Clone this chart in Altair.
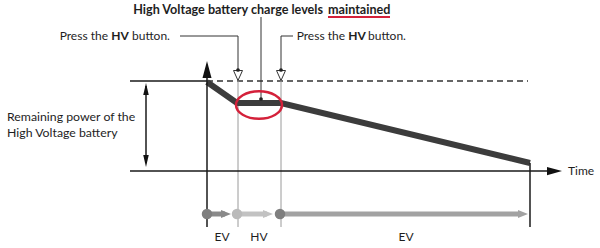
import altair as alt
import pandas as pd

# ---- data (pixel-space diagram coordinates) ----
curve_t = [207, 237, 281, 530]
curve_lvl = [82, 103, 103, 163]

black_x1 = [130, 207, 130, 530, 146]
black_y1 = [81, 70, 171, 163, 86]
black_x2 = [207, 207, 550, 530, 146]
black_y2 = [81, 227, 171, 227, 163]

call_x1 = [180, 238, 293, 281, 261]
call_y1 = [36, 36, 36, 36, 17]
call_x2 = [238, 238, 281, 281, 261]
call_y2 = [36, 70, 36, 70, 99]

gray_x = [238, 281]

phase_x1 = [207, 238, 281]
phase_x2 = [225, 267, 519]
phase_head = [226, 268, 523]
phase_dot = [207, 237, 280]
phase_col = ["#8a8a8a", "#c2c2c2", "#a2a2a2"]
dot_col = ["#7f7f7f", "#bababa", "#7f7f7f"]
phase_lbl = ["EV", "HV", "EV"]
phase_lbl_x = [222, 259, 406]

xs = alt.Scale(domain=[0, 600], range=[0, 600], nice=False, zero=False)
ys = alt.Scale(domain=[0, 248], range=[0, 248], nice=False, zero=False)

def X(f="x"):
    return alt.X(f"{f}:Q", scale=xs, axis=None)

def Y(f="y"):
    return alt.Y(f"{f}:Q", scale=ys, axis=None)

FONT = "Lato"

def rules(x1, y1, x2, y2, color, width, dash=None):
    df = pd.DataFrame({"x": x1, "y": y1, "x2": x2, "y2": y2})
    kw = dict(color=color, strokeWidth=width)
    if dash:
        kw["strokeDash"] = dash
    return alt.Chart(df).mark_rule(**kw).encode(
        x=X(), y=Y(), x2=alt.X2("x2:Q"), y2=alt.Y2("y2:Q"))

def symbols(xv, yv, shape, size, fill, stroke=None, sw=0, filled=True, colors=None):
    df = pd.DataFrame({"x": xv, "y": yv})
    kw = dict(shape=shape, size=size, filled=filled, opacity=1)
    if filled:
        kw["fill"] = fill
    if stroke:
        kw["stroke"] = stroke
        kw["strokeWidth"] = sw
    enc = dict(x=X(), y=Y())
    if colors is not None:
        df["c"] = colors
        enc["fill"] = alt.Fill("c:N", scale=None)
    return alt.Chart(df).mark_point(**kw).encode(**enc)

def texts(xv, yv, tv, align, size=12, weight="normal", color="#1e1e1e"):
    df = pd.DataFrame({"x": xv, "y": yv, "t": tv})
    return alt.Chart(df).mark_text(
        align=align, baseline="middle", font=FONT, fontSize=size,
        fontWeight=weight, color=color).encode(x=X(), y=Y(), text="t:N")

layers = []

# dashed reference line
layers.append(rules([207], [81], [528], [81], "#333333", 1.5, [6, 4]))
# gray phase verticals
layers.append(rules(gray_x, [80, 80], gray_x, [227, 227], "#9a9a9a", 1))
# charge curve
curve_df = pd.DataFrame({"x": curve_t, "y": curve_lvl, "o": range(len(curve_t))})
layers.append(alt.Chart(curve_df).mark_line(color="#3c3c3c", strokeWidth=6, strokeJoin="miter").encode(
    x=X(), y=Y(), order="o:Q"))
# black frame lines
layers.append(rules(black_x1, black_y1, black_x2, black_y2, "#1a1a1a", 1.5))
# callout lines
layers.append(rules(call_x1, call_y1, call_x2, call_y2, "#333333", 1))
# red underline
layers.append(rules([328], [17], [390], [17], "#d4213a", 2))

# arrow heads
layers.append(symbols([207], [69.5], "M0,-1L0.53,1L-0.53,1Z", 289, "#111"))
layers.append(symbols([554.5], [171], "M1,0L-1,-0.55L-1,0.55Z", 225, "#111"))
layers.append(symbols([146], [89], "M0,-1L0.46,1L-0.46,1Z", 144, "#111"))
layers.append(symbols([146], [161], "M0,1L0.46,-1L-0.46,-1Z", 144, "#111"))
# open triangles at HV presses
layers.append(symbols([238, 281], [75.5, 75.5], "M0,1L-0.9,-1L0.9,-1Z", 100, "white",
                      stroke="#333", sw=1))
# small dots
layers.append(symbols([238, 281, 261], [70, 70, 99], "circle", 14, "#222"))

# red ellipse
layers.append(symbols([259], [105], "M-1,0A1,0.6,0,1,1,1,0A1,0.6,0,1,1,-1,0Z", 2116,
                      None, stroke="#d4213a", sw=2.5, filled=False))

# phase arrows
for i in range(3):
    layers.append(rules([phase_x1[i]], [214], [phase_x2[i]], [214], phase_col[i], 5))
    layers.append(symbols([phase_head[i]], [214], "M1,0L-1,-0.8L-1,0.8Z", 100, phase_col[i]))
layers.append(symbols(phase_dot, [214] * 3, "circle", 110, None, colors=dot_col))

# text
layers.append(texts([323], [10], ["High Voltage battery charge levels"], "right", 12.6, "bold"))
layers.append(texts([328], [10], ["maintained"], "left", 12.6, "bold"))
layers.append(texts([108, 345], [36, 36], ["Press the", "Press the"], "right", 12))
layers.append(texts([120, 357], [36, 36], ["HV", "HV"], "center", 12, "bold"))
layers.append(texts([132, 368], [36, 36], ["button.", "button."], "left", 12))
layers.append(texts([7, 7], [117, 133], ["Remaining power of the", "High Voltage battery"], "left", 12.3))
layers.append(texts([568], [171], ["Time"], "left", 12))
layers.append(texts(phase_lbl_x, [237] * 3, phase_lbl, "center", 12))

chart = alt.layer(*layers).properties(
    width=600, height=248, autosize=alt.AutoSizeParams(type="none"), padding=0,
    background="white"
).configure_view(stroke=None)

chart.save("out.html", embed_options={"renderer": "svg", "actions": False})
